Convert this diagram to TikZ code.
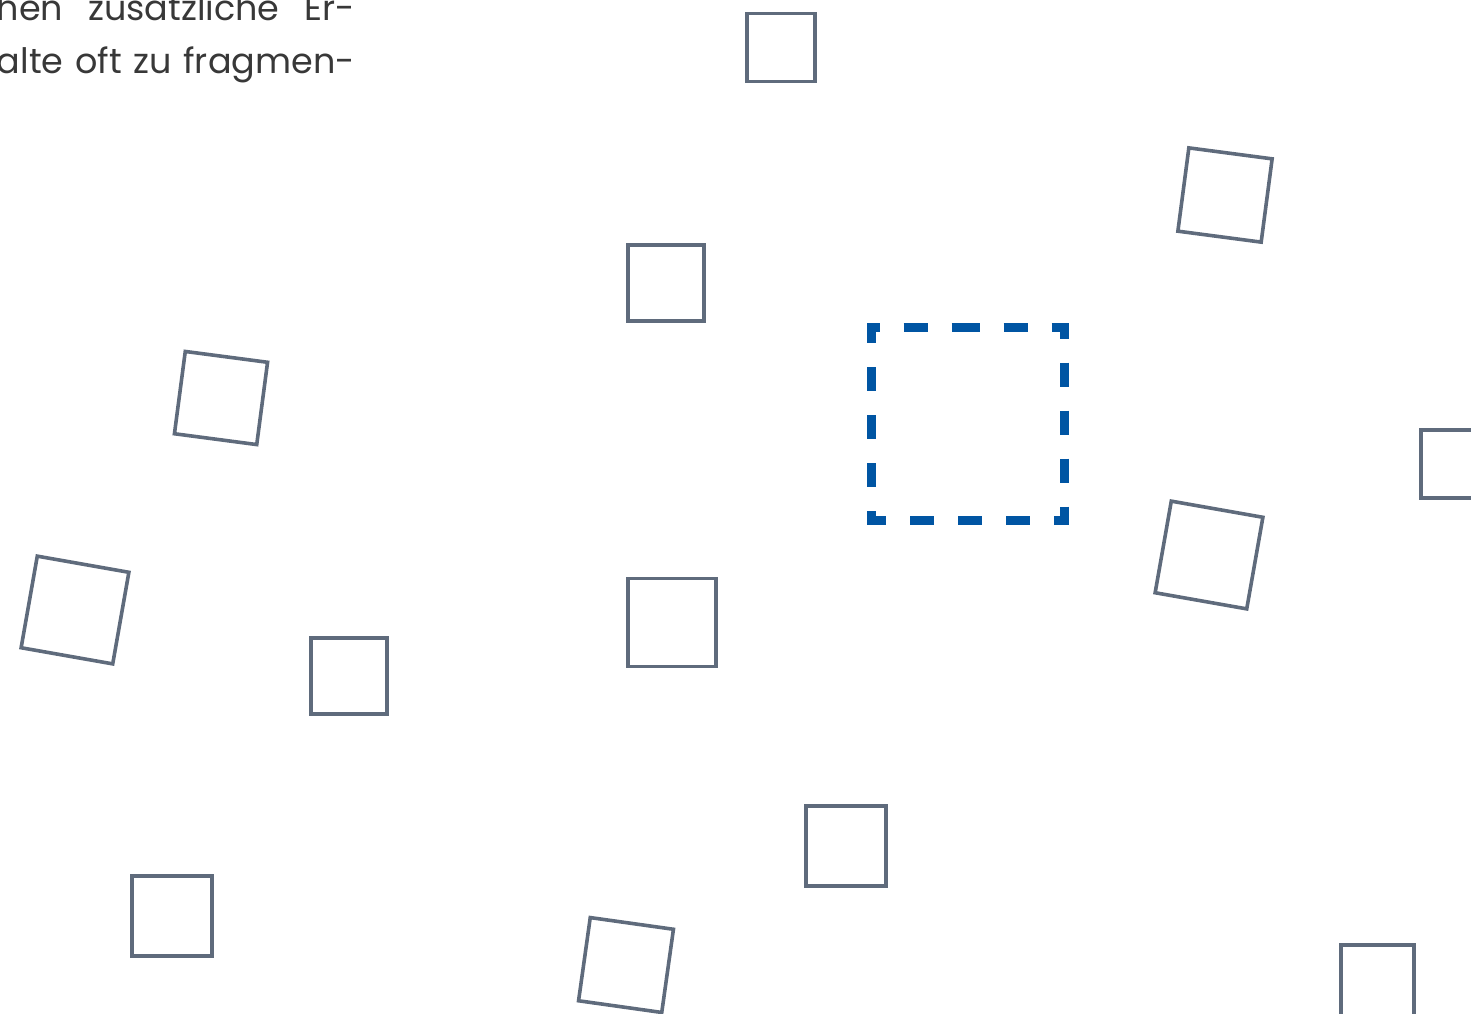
\documentclass[tikz,border=0pt]{standalone}
\usepackage{fontspec}
\setmainfont{Poppins}
\usepackage{xcolor}
\usepackage{tikz}
\usetikzlibrary{positioning}

\definecolor{tilegray}{HTML}{5F6B7C}
\definecolor{focusblue}{HTML}{0055A3}
\definecolor{textgray}{HTML}{383838}

\begin{document}
\begin{tikzpicture}[
  x=1pt, y=-1pt,
  tile/.style={
    draw=tilegray, line width=3.6pt,
    inner sep=0pt, minimum size=#1,
  },
  focusframe/.style={
    inner sep=0pt, outer sep=0pt, minimum size=193pt,
  },
  focusline/.style={
    draw=focusblue, line width=9pt,
    dash pattern=on 24pt off 24pt, dash phase=12pt,
  },
  note/.style={
    font=\fontsize{35}{54}\selectfont, text=textgray,
    inner sep=0pt, anchor=base east,
  },
]
\useasboundingbox (0,0) rectangle (1471,1013);
\clip (0,0) rectangle (1471,1013);

% Text fragment, top left
\node[note] (line1) at (355,20) {\makebox[358pt][s]{hen zusätzliche Er-}};
\node[note] (line2) at (355,73) {\makebox[358pt][s]{alte oft zu fragmen-}};

% Highlighted tile
\node[focusframe] (target) at (967.5,423.5) {};
\draw[focusline] (target.north) -- (target.north east) -- (target.south east)
  -- (target.south west) -- (target.north west) -- cycle;

% Scattered tiles
\node[tile=68pt] (t1) at (781,47.5) {};
\node[tile=84pt, rotate=-7.5] (t2) at (1225,195) {};
\node[tile=76pt] (t3) at (666,283) {};
\node[tile=83pt, rotate=-7.5] (t4) at (221,398) {};
\node[tile=68pt] (t5) at (1455,464) {};
\node[tile=93pt, rotate=-10] (t6) at (1209,555) {};
\node[tile=93pt, rotate=-10] (t7) at (75,610) {};
\node[tile=76pt] (t8) at (349,676) {};
\node[tile=88pt] (t9) at (672,622.5) {};
\node[tile=80pt] (t10) at (846,846) {};
\node[tile=80pt] (t11) at (172,916) {};
\node[tile=84pt, rotate=-8] (t12) at (626,965) {};
\node[tile=73pt] (t13) at (1377.5,981.5) {};

\end{tikzpicture}
\end{document}
